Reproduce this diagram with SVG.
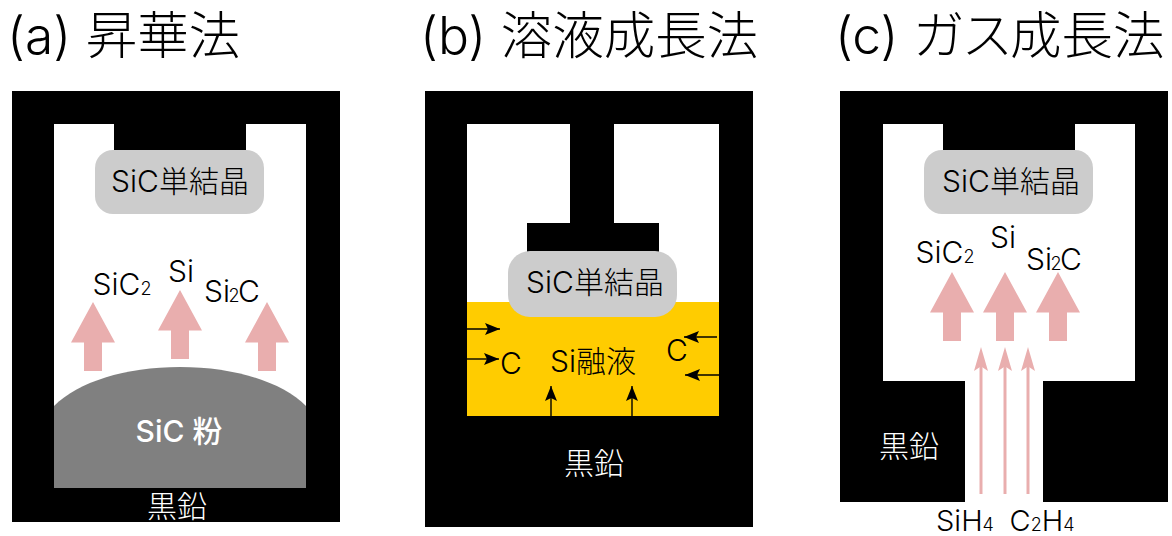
<svg xmlns="http://www.w3.org/2000/svg" width="1172" height="536" viewBox="0 0 1172 536">
<style>
text{font-family:"Inter","Noto Sans CJK JP",sans-serif;font-size:30px;fill:#000;text-anchor:middle;font-weight:300}
.t{font-size:51.500px;text-anchor:start}
.w{fill:#fff}
.b{font-weight:500}
.s{font-size:18px}
.u{font-size:29px}
.k{fill:#000}
.c{fill:#ccc}
.p{fill:#e9aeae}
.l{stroke:#000;stroke-width:1.4;fill:none;marker-end:url(#h)}
.q{stroke:#e9aeae;stroke-width:3;fill:none}
</style>
<defs>
<marker id="h" markerUnits="userSpaceOnUse" markerWidth="16" markerHeight="12" refX="15" refY="6" orient="auto"><path d="M0 0L15 6L0 12L3 6Z" fill="#000"/></marker>
<path id="a" d="M0 0L22 40.500H9V69H-9V40.500H-22Z" class="p"/>
<path id="n" d="M0 0L7 24L1 20H-1L-7 24Z" class="p"/>
</defs>
<g id="title-a"><text class="t" x="7" y="54">(a) 昇華法</text></g>
<g id="title-b"><text class="t" x="420" y="54">(b) 溶液成長法</text></g>
<g id="title-c"><text class="t" x="835" y="54">(c) <tspan letter-spacing="-3">ガス</tspan>成長法</text></g>
<g id="panel-a">
<path class="k" fill-rule="evenodd" d="M12 91H340V522H12ZM54 124V488H306V124H246V150H114V124Z"/>
<g id="powder-a"><path fill="#808080" d="M54 406C78 382 125 367 180 367C235 367 282 382 306 406V488H54Z"/><text class="w b" x="179" y="442">SiC 粉</text></g>
<g id="crystal-a"><rect class="c" x="95" y="150" width="169" height="64" rx="18"/><text x="180" y="192">SiC単結晶</text></g>
<text class="w" x="177" y="517">黒鉛</text>
<text x="122" y="295">SiC<tspan class="s">2</tspan></text>
<text x="181" y="282">Si</text>
<text x="232" y="302">Si<tspan class="s" dx="-1.500">2</tspan><tspan dx="-1.500">C</tspan></text>
</g>
<g id="panel-b">
<path class="k" fill-rule="evenodd" d="M425 91H753V527H425ZM467 124V416H719V124H614V223H659V252H527V223H570V124Z"/>
<rect id="melt" x="467" y="302" width="252" height="114" fill="#fc0"/>
<g id="crystal-b"><rect class="c" x="508" y="251" width="169" height="66" rx="22"/><text x="595" y="293">SiC単結晶</text></g>
<text class="w" x="594" y="474">黒鉛</text>
<text x="511" y="374">C</text>
<text x="677" y="361">C</text>
<text x="593" y="372">Si融液</text>
</g>
<g id="panel-c">
<path class="k" fill-rule="evenodd" d="M840 91H1168V502H1043V381H1135V124H1075V150H943V124H883V381H965V502H840Z"/>
<g id="crystal-c"><rect class="c" x="924" y="150" width="169" height="64" rx="18"/><text x="1011" y="192">SiC単結晶</text></g>
<text class="w" x="909" y="457">黒鉛</text>
<text x="945" y="263">SiC<tspan class="s">2</tspan></text>
<text x="1003" y="248">Si</text>
<text x="1054" y="270">Si<tspan class="s" dx="-1.500">2</tspan><tspan dx="-1.500">C</tspan></text>
<text class="u" x="965" y="531">SiH<tspan class="s">4</tspan></text>
<text class="u" x="1042" y="531">C<tspan class="s">2</tspan>H<tspan class="s">4</tspan></text>
</g>
<g id="connectors">
<use href="#a" x="93" y="302"/><use href="#a" x="180" y="290"/><use href="#a" x="267" y="302"/>
<path class="l" d="M467 329H500"/><path class="l" d="M467 359H499"/>
<path class="l" d="M717 337H684"/><path class="l" d="M719 375H685"/>
<path class="l" d="M551 416V386"/><path class="l" d="M632 416V386"/>
<use href="#a" x="952" y="272"/><use href="#a" x="1005" y="272"/><use href="#a" x="1058" y="272"/>
<path class="q" d="M981 494V360"/><path class="q" d="M1005 494V360"/><path class="q" d="M1028 494V360"/>
<use href="#n" x="981" y="347"/><use href="#n" x="1005" y="347"/><use href="#n" x="1028" y="347"/>
</g>
</svg>
